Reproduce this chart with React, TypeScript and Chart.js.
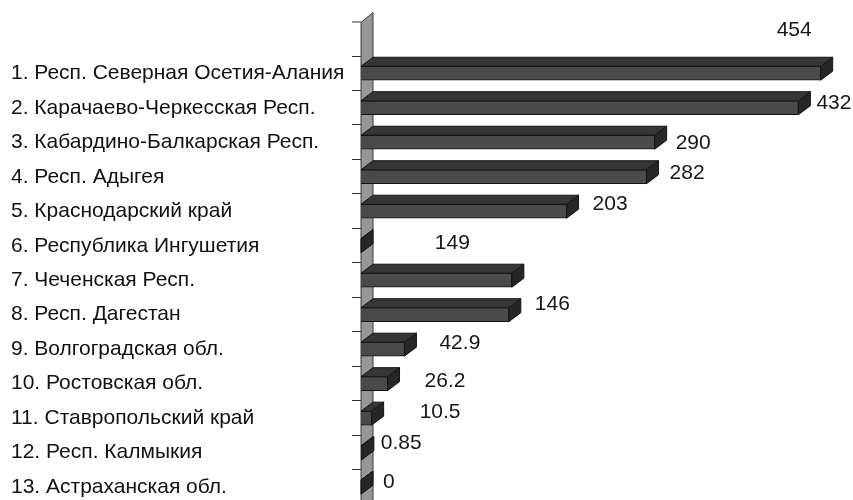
import React, { useEffect, useRef } from "react";
import { Chart, registerables } from "chart.js";

Chart.register(...registerables);

// Regions (y-axis categories)
const regions: string[] = [
  "1. Респ. Северная Осетия-Алания",
  "2. Карачаево-Черкесская Респ.",
  "3. Кабардино-Балкарская Респ.",
  "4. Респ. Адыгея",
  "5. Краснодарский край",
  "6. Республика Ингушетия",
  "7. Чеченская Респ.",
  "8. Респ. Дагестан",
  "9. Волгоградская обл.",
  "10. Ростовская обл.",
  "11. Ставропольский край",
  "12. Респ. Калмыкия",
  "13. Астраханская обл.",
];

// Bar lengths
const values: number[] = [454, 432, 290, 282, 203, 0, 149, 146, 42.9, 26.2, 10.5, 0.85, 0];

// Which bars carry a value caption
const showValue: boolean[] = [true, true, true, true, true, false, true, true, true, true, true, true, true];

// Caption placement relative to the bar's far top corner (px)
const captionOffsets: [number, number][] = [
  [-56, -43], [6, -5], [9, 1], [11, -4], [14, -7], [0, 0], [-89, -37],
  [14, -10], [23, -6], [25, -2], [36, -6], [7, -9], [10, -5],
];

const X_MAX = 480;
const DEPTH_X = 12;
const DEPTH_Y = 9;

const FRONT = "#4a4a4a";
const TOP = "#363636";
const SIDE = "#262626";
const EDGE = "#151515";
const WALL = "#979797";

const depthPlugin = {
  id: "depth3d",
  beforeDatasetsDraw(chart: any) {
    const { ctx, chartArea } = chart;
    const band = (chartArea.bottom - chartArea.top) / regions.length;
    const wallTop = chartArea.top - band;
    const left = chartArea.left;
    ctx.save();
    // side wall behind the category axis
    ctx.beginPath();
    ctx.moveTo(left, wallTop + 1);
    ctx.lineTo(left + DEPTH_X, wallTop - DEPTH_Y);
    ctx.lineTo(left + DEPTH_X, chart.height);
    ctx.lineTo(left, chart.height);
    ctx.closePath();
    ctx.fillStyle = WALL;
    ctx.fill();
    ctx.strokeStyle = "#3a3a3a";
    ctx.lineWidth = 1;
    ctx.stroke();
    // extra tick at the top of the wall
    ctx.beginPath();
    ctx.moveTo(left - 9, wallTop + 0.5);
    ctx.lineTo(left, wallTop + 0.5);
    ctx.strokeStyle = "#333";
    ctx.stroke();
    ctx.restore();
  },
  afterDatasetsDraw(chart: any) {
    const { ctx } = chart;
    const meta = chart.getDatasetMeta(0);
    ctx.save();
    ctx.lineWidth = 1;
    ctx.strokeStyle = EDGE;
    ctx.lineJoin = "round";
    meta.data.forEach((bar: any) => {
      const p = bar.getProps(["x", "y", "base", "height"], true);
      const top = p.y - p.height / 2;
      const bot = p.y + p.height / 2;
      // top face
      ctx.beginPath();
      ctx.moveTo(p.base, top);
      ctx.lineTo(p.x, top);
      ctx.lineTo(p.x + DEPTH_X, top - DEPTH_Y);
      ctx.lineTo(p.base + DEPTH_X, top - DEPTH_Y);
      ctx.closePath();
      ctx.fillStyle = TOP;
      ctx.fill();
      ctx.stroke();
      // end face
      ctx.beginPath();
      ctx.moveTo(p.x, top);
      ctx.lineTo(p.x + DEPTH_X, top - DEPTH_Y);
      ctx.lineTo(p.x + DEPTH_X, bot - DEPTH_Y);
      ctx.lineTo(p.x, bot);
      ctx.closePath();
      ctx.fillStyle = SIDE;
      ctx.fill();
      ctx.stroke();
    });
    ctx.restore();
  },
  afterDraw(chart: any) {
    const { ctx } = chart;
    const meta = chart.getDatasetMeta(0);
    ctx.save();
    ctx.font = "21px 'Liberation Sans', Arial, sans-serif";
    ctx.fillStyle = "#161616";
    ctx.textAlign = "left";
    ctx.textBaseline = "middle";
    meta.data.forEach((bar: any, i: number) => {
      if (!showValue[i]) return;
      const p = bar.getProps(["x", "y"], true);
      const [ox, oy] = captionOffsets[i];
      ctx.fillText(String(values[i]), p.x + DEPTH_X + ox, p.y + oy);
    });
    ctx.restore();
  },
};

export default function App() {
  const ref = useRef<HTMLCanvasElement | null>(null);

  useEffect(() => {
    if (!ref.current) return;
    const chart = new Chart(ref.current, {
      type: "bar",
      data: {
        labels: regions,
        datasets: [
          {
            data: values,
            backgroundColor: FRONT,
            borderColor: EDGE,
            borderWidth: 1,
            barThickness: 14,
          },
        ],
      },
      options: {
        indexAxis: "y",
        responsive: false,
        animation: false,
        devicePixelRatio: 1,
        layout: { padding: { left: 11, top: 56, right: 6, bottom: 15.5 } },
        plugins: {
          legend: { display: false },
          tooltip: { enabled: false },
        },
        scales: {
          x: {
            display: false,
            min: 0,
            max: X_MAX,
          },
          y: {
            afterFit: (scale: any) => {
              scale.width = 350;
            },
            border: { display: false },
            grid: {
              offset: true,
              drawOnChartArea: false,
              drawTicks: true,
              tickLength: 9,
              color: "#333",
            },
            ticks: {
              crossAlign: "far",
              color: "#111",
              font: { family: "'Liberation Sans', Arial, sans-serif", size: 21 },
            },
          },
        },
      },
      plugins: [depthPlugin],
    });
    return () => chart.destroy();
  }, []);

  return (
    <div
      style={{
        position: "fixed",
        left: 0,
        top: 0,
        width: 853,
        height: 500,
        overflow: "hidden",
        background: "#fff",
      }}
    >
      <canvas ref={ref} width={853} height={520} />
    </div>
  );
}
